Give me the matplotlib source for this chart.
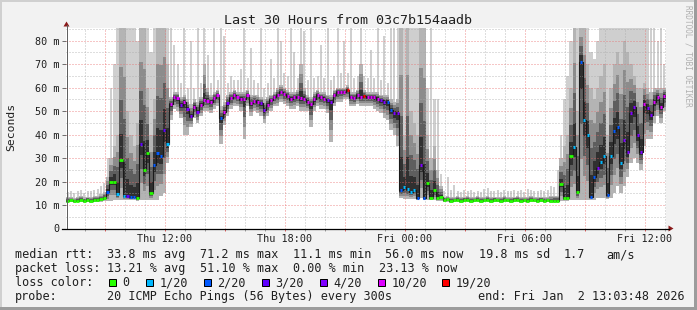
import matplotlib
matplotlib.use("Agg")
import matplotlib.pyplot as plt
import numpy as np
from matplotlib.lines import Line2D
from matplotlib.patches import Rectangle, Polygon

W, H = 697, 310

# time axis: hours since Thu 00:00, first sample Thu 07:03:48, one sample / 10 min
start = 7 + 3.8 / 60
step = 1 / 6

# median rtt (ms) per sample
median = [
    11.8, 12.0, 11.6, 11.9, 12.2, 11.7, 12.1, 11.8, 12.3, 12.0, 12.5, 12.9,
    15.6, 20.0, 20.0, 14.7, 29.0, 14.0, 13.8, 13.2, 13.5, 13.0, 36.0, 25.0, 32.0, 15.0, 27.0, 32.0, 30.8, 42.0, 36.0,
    53.0, 55.8, 55.5, 52.5, 53.9, 50.8, 47.8, 51.8, 49.6, 52.5, 54.6, 54.3, 53.9, 55.5, 56.7, 47.0, 49.6, 53.3,
    55.5, 56.7, 55.8, 55.3, 55.0, 56.7, 53.3, 54.3, 53.9, 53.3, 50.4, 52.5, 54.6, 55.8, 56.7, 58.1, 57.2, 56.5,
    55.3, 55.8, 56.0, 55.5, 55.3, 54.0, 52.9, 55.0, 56.7, 55.8, 55.3, 54.5, 53.9, 56.7, 57.9, 58.0, 58.1, 58.9,
    55.8, 55.5, 56.7, 56.0, 56.3, 56.0, 56.0, 55.8, 55.3, 54.5, 53.9, 53.9, 50.4, 49.0, 49.0,
    16.4, 17.5, 16.8, 15.6, 16.4, 13.0, 27.0, 13.0, 19.3, 13.0, 16.4, 13.0, 13.5,
    12.1, 12.4, 11.9, 12.0, 12.3, 11.8, 12.1, 12.2, 11.9, 12.0, 12.3, 11.8, 12.0, 12.2, 11.9, 12.1, 12.0,
    11.8, 12.2, 12.0, 11.9, 12.1, 12.3, 11.9, 12.0, 11.8, 12.2, 12.0, 11.9, 12.1, 11.8, 12.0, 11.9, 11.8,
    11.8, 19.0, 13.0, 13.0, 31.0, 34.8, 15.5, 71.0, 46.0, 39.7, 13.5, 22.0, 25.7, 28.4, 31.0, 14.2, 31.0,
    41.4, 43.3, 27.8, 37.6, 32.6, 49.0, 51.8, 39.7, 32.6, 52.8, 51.3, 48.2, 53.9, 56.0, 51.8, 56.3,
]
# fastest ping
low = [
    11.0, 11.2, 10.9, 11.1, 11.3, 11.0, 11.2, 11.0, 11.3, 11.1, 11.4, 11.6,
    11.5, 11.5, 12, 12, 12, 12, 12, 12, 12, 11.5, 12, 12, 12, 12, 12, 12, 14, 15, 28,
    46, 51, 50, 47, 40, 40, 43, 47, 45, 48, 50, 50, 49, 51, 52, 36, 44, 48, 51, 52, 52, 50, 38, 52,
    48, 50, 49, 48, 45, 48, 50, 52, 52, 54, 53, 52, 51, 51, 52, 50, 50, 50, 43, 50, 52, 51, 51, 49,
    37, 52, 54, 54, 55, 55, 52, 52, 53, 52, 52, 52, 52, 51, 50, 49, 47, 46, 42, 40, 35,
    13, 12.5, 12.5, 12.5, 12.5, 12, 13, 12, 12, 12, 12, 11.5, 11.5,
    11.2, 11.4, 11.0, 11.1, 11.3, 10.9, 11.2, 11.3, 11.0, 11.1, 11.3, 10.9, 11.1, 11.2, 11.0, 11.2, 11.1,
    10.9, 11.3, 11.1, 11.0, 11.2, 11.3, 11.0, 11.1, 10.9, 11.2, 11.1, 11.0, 11.2, 10.9, 11.1, 11.0, 10.9,
    11, 11.5, 11.5, 11.5, 12, 12, 12, 12, 12, 12, 12, 12, 13, 13, 13, 12.5, 13,
    15, 18, 15, 18, 22, 28, 30, 28, 25, 35, 38, 38, 45, 48, 45, 50,
]
# upper edge of the dense smoke
high = [
    13.2, 13.5, 13.0, 13.4, 13.8, 13.2, 13.6, 13.3, 14.0, 13.8, 14.5, 15.5,
    22, 30, 35, 40, 86, 86, 50, 40, 35, 45, 86, 86, 60, 40, 55, 86, 86, 86, 70,
    56, 58, 58, 56, 57, 55, 53, 55, 54, 56, 70, 60, 57, 58, 59, 52, 54, 57, 58, 59, 58, 58, 58, 59,
    57, 57, 57, 56, 55, 56, 57, 58, 60, 61, 60, 59, 58, 58, 59, 70, 60, 57, 56, 58, 59, 58, 58, 57,
    57, 59, 60, 60, 60, 61, 58, 58, 59, 70, 59, 58, 58, 58, 58, 57, 57, 57, 55, 54, 55,
    86, 40, 86, 50, 45, 40, 86, 86, 40, 30, 35, 25, 18,
    13.6, 14.0, 13.4, 13.5, 13.9, 13.2, 13.6, 13.8, 13.4, 13.5, 13.9, 13.3, 13.5, 13.7, 13.4, 13.6, 13.5,
    13.2, 13.8, 13.5, 13.4, 13.6, 13.9, 13.4, 13.5, 13.3, 13.7, 13.5, 13.4, 13.6, 13.3, 13.6, 13.8, 14.0,
    14, 30, 35, 40, 60, 86, 50, 86, 86, 70, 60, 55, 60, 65, 70, 40, 60,
    70, 75, 70, 80, 75, 70, 65, 60, 60, 62, 60, 58, 60, 60, 60, 60,
]
# slowest ping
peak = [
    15.5, 16.0, 15.2, 15.8, 16.2, 15.0, 15.8, 16.0, 16.5, 17.0, 18.0, 19.5,
    30, 60, 70, 86, 86, 86, 86, 86, 86, 80, 86, 86, 86, 75, 86, 86, 86, 86, 86,
    86, 78, 70, 62, 86, 60, 80, 60, 86, 62, 86, 74, 62, 86, 63, 86, 82, 62, 65, 63, 63, 68, 86, 64,
    77, 63, 62, 86, 60, 62, 72, 64, 86, 80, 66, 65, 86, 75, 64, 86, 84, 63, 86, 64, 65, 78, 64, 86,
    63, 65, 86, 66, 80, 66, 86, 64, 65, 86, 65, 64, 76, 64, 86, 63, 82, 62, 86, 86, 86,
    86, 86, 86, 86, 86, 86, 86, 86, 60, 86, 55, 55, 23,
    16.0, 22.0, 16.5, 18.5, 16.0, 15.5, 16.2, 15.8, 16.5, 15.6, 16.0, 15.5, 17.0, 17.2, 16.0, 15.8, 16.2,
    15.5, 16.4, 15.9, 16.0, 16.3, 15.8, 16.2, 15.7, 17.0, 16.5, 15.8, 16.0, 16.2, 15.8, 16.5, 18.0, 17.5,
    25, 40, 55, 65, 80, 86, 86, 86, 86, 86, 75, 72, 80, 86, 86, 86, 86,
    86, 86, 86, 86, 86, 86, 86, 86, 86, 86, 86, 86, 86, 80, 86, 70,
]
# lost pings out of 20
loss = (
    [0] * 12
    + [2, 0, 0, 1, 0, 1, 3, 2, 2, 0, 3, 0, 0, 0, 2, 2, 2, 3, 1]
    + [10, 10, 10, 4, 10, 4, 4, 10, 4, 10, 10, 10, 10, 10, 10, 2, 10, 4, 10, 10, 10, 10, 10, 10,
       10, 10, 10, 4, 4, 10, 10, 10, 10, 10, 10, 10, 10, 10, 10, 10, 10, 10, 10, 10, 10, 10, 10, 4,
       4, 10, 10, 10, 10, 19, 10, 10, 10, 10, 19, 10, 10, 10, 10, 4, 4, 2, 2, 4, 4]
    + [2, 1, 1, 1, 1, 2, 4, 2, 0, 0, 0, 0, 0]
    + [0] * 34
    + [0, 0, 0, 0, 0, 1, 0, 2, 1, 1, 2, 2, 4, 1, 1, 2, 1, 2, 2, 1, 4, 4, 4, 4, 4, 4, 10, 4, 4,
       10, 10, 10, 10]
)

loss_keys = [0, 1, 2, 3, 4, 10, 19]
loss_labels = ["0", "1/20", "2/20", "3/20", "4/20", "10/20", "19/20"]
loss_colors = ["#26ff00", "#00b8ff", "#0059ff", "#5e00ff", "#7e00ff", "#dd00ff", "#ff0000"]


def loss_color(n):
    c = loss_colors[0]
    for k, col in zip(loss_keys, loss_colors):
        if n >= k:
            c = col
    return c


plt.rcParams["font.family"] = "DejaVu Sans Mono"

fig = plt.figure(figsize=(W / 100, H / 100), dpi=100, facecolor="#f2f2f2")


def fx(x):
    return x / W


def fy(y):
    return 1 - y / H


x0, x1, ytop, ybot = 66, 666, 28.3, 228.5
ax = fig.add_axes([fx(x0), fy(ybot), (x1 - x0) / W, (ybot - ytop) / H])
ax.set_facecolor("white")
for s in ax.spines.values():
    s.set_visible(False)
ax.set_xlim(start, start + 30)
ax.set_ylim(0, 85.2)

t = start + np.arange(len(median)) * step
med = np.array(median)
lo = np.array(low)
hi = np.array(high)
pk = np.array(peak)

# smoke: light spikes for the slowest pings (thin where the core is tight),
# darker bands towards the median
wide = (hi - lo) > 20
sw = np.where(wide, step, step * 0.6)
sx = np.where(wide, t, t + step * 0.2)
ax.bar(sx, pk - lo, bottom=lo, width=sw, align="edge", color="#cfcfcf", lw=0, zorder=1)
for f, c in [(1.0, "#b4b4b4"), (0.7, "#8c8c8c"), (0.45, "#5e5e5e"), (0.2, "#303030")]:
    b = med - (med - lo) * f
    tp = med + (hi - med) * f
    ax.bar(t, tp - b, bottom=b, width=step, align="edge", color=c, lw=0, zorder=1)

# grid (dotted, drawn over the smoke like rrdtool)
dot = (0, (1, 2))
for v in range(5, 86, 5):
    col = "#e86a6a" if v % 10 == 0 else "#a8a8a8"
    ax.axhline(v, color=col, lw=0.72, ls=dot, alpha=0.75, zorder=3)
for h in range(8, 38):
    col = "#e86a6a" if h % 3 == 0 else "#a8a8a8"
    ax.axvline(h, color=col, lw=0.72, ls=dot, alpha=0.75, zorder=3)

# median line, coloured by loss
ax.step(np.append(t, t[-1] + step), np.append(med, med[-1]), where="post",
        color="#1a1a1a", lw=0.8, zorder=4)
for ti, m, n in zip(t, med, loss):
    if n == 0:
        ax.hlines(m, ti, ti + step, colors=loss_color(n), lw=2.0, zorder=5)
    else:
        ax.hlines(m, ti + step * 0.15, ti + step * 0.8, colors=loss_color(n), lw=2.2, zorder=5)

# ticks
ax.set_yticks(range(0, 81, 10))
ax.set_yticklabels(["0"] + ["%d m" % v for v in range(10, 81, 10)])
ax.set_xticks([12, 18, 24, 30, 36])
ax.set_xticklabels(["Thu 12:00", "Thu 18:00", "Fri 00:00", "Fri 06:00", "Fri 12:00"])
ax.tick_params(axis="both", length=0, labelsize=7.3, colors="#202020")
ax.tick_params(axis="y", pad=4.7)
ax.tick_params(axis="x", pad=4.2)
ax.hlines(range(0, 81, 10), -0.007, 0, transform=ax.get_yaxis_transform(),
          colors="#707070", lw=0.72, clip_on=False)
for h in range(8, 38):
    ax.vlines(h, -0.012, 0, transform=ax.get_xaxis_transform(),
              colors="#e06060" if h % 3 == 0 else "#a0a0a0", lw=0.72, clip_on=False)

# axis lines and arrows
fig.add_artist(Line2D([fx(66.5), fx(66.5)], [fy(ybot), fy(25)], color="#606060", lw=0.72))
fig.add_artist(Line2D([fx(62), fx(669)], [fy(228.5), fy(228.5)], color="black", lw=0.9))
fig.add_artist(Polygon([(fx(63.5), fy(26.5)), (fx(69.5), fy(26.5)), (fx(66.5), fy(21.5))],
                       closed=True, color="#8b1a1a", lw=0))
fig.add_artist(Polygon([(fx(668.5), fy(225.5)), (fx(668.5), fy(231.5)), (fx(673.5), fy(228.5))],
                       closed=True, color="#8b1a1a", lw=0))

# frame of the image
fig.add_artist(Rectangle((0, fy(2)), 1, 2 / H, color="#d0d0d0", lw=0))
fig.add_artist(Rectangle((0, 0), 2 / W, 1, color="#d0d0d0", lw=0))
fig.add_artist(Rectangle((1 - 3 / W, 0), 3 / W, 1, color="#9c9c9c", lw=0))
fig.add_artist(Rectangle((0, 0), 1, 3 / H, color="#9c9c9c", lw=0))

# titles
fig.text(0.5, fy(24), "Last 30 Hours from 03c7b154aadb", ha="center", va="baseline",
         fontsize=9.6, color="#202020")
fig.text(fx(11), fy(127), "Seconds", rotation=90, ha="center", va="center",
         fontsize=8.2, color="#202020")
fig.text(fx(688), fy(56), "RRDTOOL / TOBI OETIKER", rotation=270, ha="center", va="center",
         fontsize=5.6, color="#b0b0b0")

# legend rows
fs = 8.5
rows = [
    (258.3, [(16, "median rtt:"), (107.3, "33.8 ms avg"), (200.7, "71.2 ms max"),
             (293.3, "11.1 ms min"), (385.7, "56.0 ms now"), (479.3, "19.8 ms sd"),
             (564, "1.7"), (606.7, "am/s")]),
    (272.3, [(16, "packet loss:"), (107.3, "13.21 % avg"), (200.7, "51.10 % max"),
             (293.3, "0.00 % min"), (379.3, "23.13 % now")]),
    (286.3, [(16, "loss color:")]),
    (300.3, [(16, "probe:"), (107.3, "20 ICMP Echo Pings (56 Bytes) every 300s"),
             (478.3, "end: Fri Jan  2 13:03:48 2026")]),
]
for base, parts in rows:
    for x, s in parts:
        fig.text(fx(x - 0.7), fy(base), s, ha="left", va="baseline", fontsize=fs, color="#202020")

sq_x = [109, 146, 204, 262, 320, 377.7, 442.3]
for x, lab, col in zip(sq_x, loss_labels, loss_colors):
    fig.add_artist(Rectangle((fx(x), fy(286.3)), 7 / W, 7 / H, facecolor=col,
                             edgecolor="black", lw=0.72))
    fig.text(fx(x + 14.3 - 0.7), fy(286.3), lab, ha="left", va="baseline", fontsize=fs,
             color="#202020")

fig.savefig("out.png", dpi=100, facecolor=fig.get_facecolor())
